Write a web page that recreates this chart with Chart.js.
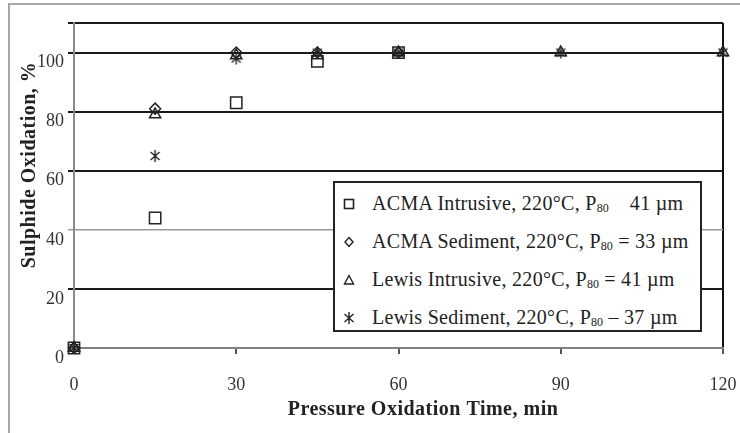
<!DOCTYPE html>
<html>
<head>
<meta charset="utf-8">
<script src="https://cdn.jsdelivr.net/npm/chart.js@4"></script>
<style>
  body { margin: 0; background: #fff; }
  #wrap { position: relative; width: 740px; height: 433px; overflow: hidden; }
  #frame { position: absolute; left: 8px; top: 3px; width: 800px; height: 500px;
    border-top: 2px solid #a8a8a8; border-left: 2px solid #a8a8a8; }
  #myChart { position: absolute; left: 0; top: 0; }
  #legend { position: absolute; left: 333px; top: 181px; width: 365px; height: 145px;
    border: 2px solid #222; background: #fff; padding-top: 2px; box-sizing: content-box;
    font-family: "Liberation Serif", serif; font-size: 20px; letter-spacing: 0.3px; color: #222; }
  .row { height: 38px; display: flex; align-items: center; white-space: pre; }
  .row svg { width: 14px; height: 14px; margin-left: 7px; margin-right: 16px; }
  .row sub { font-size: 12px; vertical-align: -2px; letter-spacing: 0; }
</style>
</head>
<body>
<div id="wrap">
  <div id="frame"></div>
  <canvas id="myChart" width="740" height="433"></canvas>
  <div id="legend"></div>
</div>
<script>
const times = [0, 15, 30, 45, 60, 90, 120];
const acmaIntrusive = [0, 44, 83, 97, 100, null, null];
const acmaSediment = [0, 81, 100, 100, 100, null, null];
const lewisIntrusive = [0, 79, 99, 99, 100, 100, 100];
const lewisSediment = [0, 65, 98, 100, 100, 100, 100];
const seriesLabels = [
  "ACMA Intrusive, 220°C, P80    41 µm",
  "ACMA Sediment, 220°C, P80 = 33 µm",
  "Lewis Intrusive, 220°C, P80 = 41 µm",
  "Lewis Sediment, 220°C, P80 – 37 µm",
];
const xTicks = [0, 30, 60, 90, 120];
const yTicks = [0, 20, 40, 60, 80, 100];
const xTitle = "Pressure Oxidation Time, min";
const yTitle = "Sulphide Oxidation, %";

const ink = "#222";

// six-spoke asterisk marker
const makeAsterisk = () => {
  const c = document.createElement("canvas");
  c.width = 14;
  c.height = 14;
  const g = c.getContext("2d");
  g.strokeStyle = ink;
  g.lineWidth = 1.4;
  g.beginPath();
  g.moveTo(7, 1); g.lineTo(7, 13);
  g.moveTo(2.5, 3); g.lineTo(11.5, 11);
  g.moveTo(11.5, 3); g.lineTo(2.5, 11);
  g.stroke();
  return c;
};

const toPoints = (vals) => times.map((t, i) => ({ x: t, y: vals[i] })).filter((p) => p.y !== null);

const markerStyles = [
  { pointStyle: "rect", pointRadius: 8 },
  { pointStyle: "rectRot", pointRadius: 5.5 },
  { pointStyle: "triangle", pointRadius: 6.5 },
  { pointStyle: makeAsterisk(), pointRadius: 7 },
];
const seriesValues = [acmaIntrusive, acmaSediment, lewisIntrusive, lewisSediment];

const datasets = seriesValues.map((vals, i) => ({
  label: seriesLabels[i],
  data: toPoints(vals),
  showLine: false,
  clip: false,
  borderColor: ink,
  backgroundColor: "rgba(0,0,0,0)",
  pointBorderWidth: 1.5,
  ...markerStyles[i],
}));

const axisTitles = {
  id: "axisTitles",
  afterDraw(chart) {
    const { ctx, chartArea } = chart;
    ctx.save();
    ctx.font = 'bold 20px "Liberation Serif"';
    ctx.letterSpacing = "0.5px";
    ctx.fillStyle = ink;
    ctx.textAlign = "center";
    ctx.textBaseline = "middle";
    ctx.fillText(xTitle, chartArea.left + 349, chartArea.bottom + 62);
    ctx.translate(30, chartArea.top + 142);
    ctx.rotate(-Math.PI / 2);
    ctx.fillText(yTitle, 0, 0);
    ctx.restore();
  },
};

const ctx = document.getElementById("myChart");
const chart = new Chart(ctx, {
  type: "scatter",
  data: { datasets },
  plugins: [axisTitles],
  options: {
    responsive: false,
    animation: false,
    devicePixelRatio: 1,
    layout: { padding: { left: 0, top: 23, right: 17, bottom: 0 } },
    plugins: { legend: { display: false }, tooltip: { enabled: false } },
    scales: {
      x: {
        type: "linear",
        min: 0,
        max: 120,
        afterFit: (s) => {
          s.height = 85;
          s.paddingLeft = 0;
          s.paddingRight = 0;
        },
        afterBuildTicks: (s) => { s.ticks = xTicks.map((v) => ({ value: v })); },
        ticks: { padding: 20, color: "#333", font: { family: "Liberation Serif", size: 18 } },
        grid: {
          color: (c) => (c.tick && c.tick.value === 120 ? "#111" : "rgba(0,0,0,0)"),
          lineWidth: 2,
          tickColor: "#555",
          tickLength: 6,
        },
        border: { display: true, color: "#808080", width: 2 },
      },
      y: {
        min: 0,
        max: 110,
        afterFit: (s) => {
          s.width = 74;
          s.paddingTop = 0;
          s.paddingBottom = 0;
        },
        afterBuildTicks: (s) => { s.ticks = yTicks.concat([110]).map((v) => ({ value: v })); },
        ticks: {
          padding: 4,
          labelOffset: 10,
          color: "#333",
          font: { family: "Liberation Serif", size: 18 },
          callback: (v) => (v === 110 ? "" : v),
        },
        grid: {
          color: (c) => {
            const v = c.tick ? c.tick.value : null;
            if (v === 40) return "#9a9a9a";
            if (v === 0) return "#808080";
            return "#1a1a1a";
          },
          lineWidth: (c) => (c.tick && c.tick.value === 40 ? 1.5 : 2),
          tickLength: 6,
        },
        border: { display: true, color: "#8a8a8a", width: 2 },
      },
    },
  },
});

// legend box drawn over the plot area
const legendBox = document.getElementById("legend");
const legendIcons = [
  '<svg viewBox="0 0 14 14"><rect x="2.5" y="2.5" width="9" height="9" fill="none" stroke="#222" stroke-width="1.6"/></svg>',
  '<svg viewBox="0 0 14 14"><path d="M7 2.5 L11 7 L7 11.5 L3 7 Z" fill="none" stroke="#222" stroke-width="1.4"/></svg>',
  '<svg viewBox="0 0 14 14"><path d="M7 2.5 L11.5 11 L2.5 11 Z" fill="none" stroke="#222" stroke-width="1.4"/></svg>',
  '<svg viewBox="0 0 14 14"><path d="M7 1 V13 M2.5 3 L11.5 11 M11.5 3 L2.5 11" stroke="#222" stroke-width="1.4"/></svg>',
];
seriesLabels.forEach((label, i) => {
  const row = document.createElement("div");
  row.setAttribute("class", "row");
  row.innerHTML = legendIcons[i] + "<span>" + label.replace("P80", "P<sub>80</sub>") + "</span>";
  legendBox.appendChild(row);
});
</script>
</body>
</html>
